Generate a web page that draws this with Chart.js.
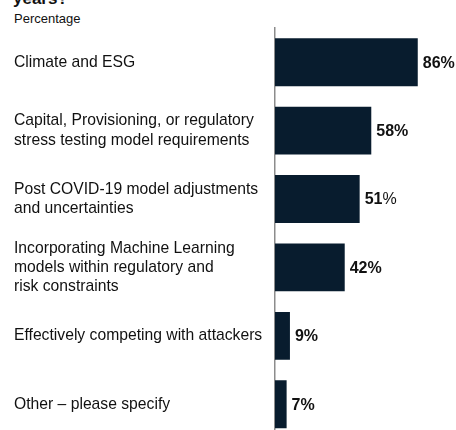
<!DOCTYPE html>
<html>
<head>
<meta charset="utf-8">
<script src="https://cdn.jsdelivr.net/npm/chart.js@4"></script>
<style>
  html, body { margin: 0; padding: 0; background: #fff; overflow: hidden; }
  body { width: 456px; height: 430px; position: relative; font-family: Arial, 'Liberation Sans', sans-serif; color: #111; }
  #question { position: absolute; left: 13px; top: -10px; font-size: 17px; font-weight: bold; line-height: 17px; white-space: nowrap; }
  #unit { position: absolute; left: 14px; top: 11px; font-size: 13px; line-height: 16px; }
  #myChart { position: absolute; left: 0; top: 0; }
</style>
</head>
<body>
<div id="question">years?</div>
<div id="unit">Percentage</div>
<canvas id="myChart" width="456" height="448"></canvas>
<script>
// Survey answers, share of respondents
var categories = [
    ['Climate and ESG'],
    ['Capital, Provisioning, or regulatory', 'stress testing model requirements'],
    ['Post COVID-19 model adjustments', 'and uncertainties'],
    ['Incorporating Machine Learning', 'models within regulatory and', 'risk constraints'],
    ['Effectively competing with attackers'],
    ['Other \u2013 please specify']
];
var percentages = [86, 58, 51, 42, 9, 7];
// whether the % sign of the value label is set in bold too
var boldPercentSign = [true, true, false, true, true, true];

var barColor = '#081c2e';
var fontFamily = "Arial, 'Liberation Sans', sans-serif";

// Writes the value next to the end of each bar
var valueLabels = {
    id: 'valueLabels',
    afterDatasetsDraw: function (chart) {
        var ctx = chart.ctx;
        var meta = chart.getDatasetMeta(0);
        ctx.save();
        ctx.fillStyle = '#111';
        ctx.textBaseline = 'middle';
        ctx.textAlign = 'left';
        meta.data.forEach(function (bar, i) {
            var x = bar.x + 5;
            var y = bar.y + 1;
            var num = String(percentages[i]);
            ctx.font = 'bold 16px ' + fontFamily;
            ctx.fillText(num, x, y);
            var w = ctx.measureText(num).width;
            ctx.font = (boldPercentSign[i] ? 'bold ' : '') + '16px ' + fontFamily;
            ctx.fillText('%', x + w, y);
        });
        ctx.restore();
    }
};

var ctx = document.getElementById('myChart').getContext('2d');
var myChart = new Chart(ctx, {
    type: 'bar',
    data: {
        labels: categories,
        datasets: [{
            data: percentages,
            backgroundColor: barColor,
            borderWidth: 0,
            categoryPercentage: 1,
            barPercentage: 0.7
        }]
    },
    plugins: [valueLabels],
    options: {
        indexAxis: 'y',
        responsive: false,
        animation: false,
        layout: {
            padding: { left: 14, right: 15, top: 28, bottom: 2 }
        },
        plugins: {
            legend: { display: false },
            tooltip: { enabled: false }
        },
        scales: {
            x: {
                display: false,
                min: 0,
                max: 100
            },
            y: {
                grid: { display: false, drawTicks: false },
                border: { display: true, color: '#8c8c8c', width: 1.5 },
                afterFit: function (scale) { scale.width = 261; },
                ticks: {
                    crossAlign: 'far',
                    color: '#111',
                    padding: 0,
                    font: { family: fontFamily, size: 15.7, lineHeight: 1.22 }
                }
            }
        }
    }
});
</script>
</body>
</html>
